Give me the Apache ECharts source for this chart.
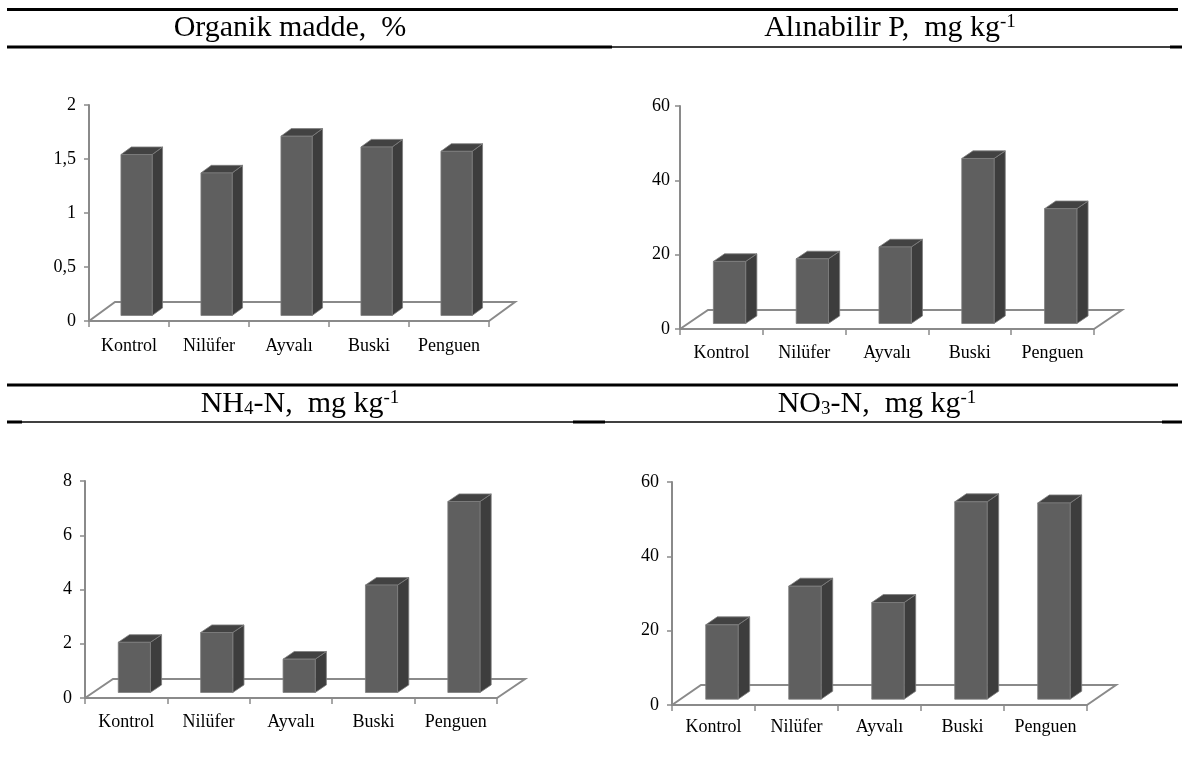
<!DOCTYPE html>
<html>
<head>
<meta charset="utf-8">
<script src="https://cdn.jsdelivr.net/npm/echarts@6/dist/echarts.min.js"></script>
<style>
html,body{margin:0;padding:0;background:#fff;}
#chart{width:1182px;height:758px;}
</style>
</head>
<body>
<div id="chart"></div>
<script>
// ---- data ----
const categories = ['Kontrol', 'Nilüfer', 'Ayvalı', 'Buski', 'Penguen'];
const organikMadde = [1.49, 1.32, 1.66, 1.56, 1.52];
const alinabilirP = [16.7, 17.4, 20.6, 44.4, 30.9];
const nh4N = [1.85, 2.21, 1.23, 3.96, 7.04];
const no3N = [20.0, 30.4, 26.0, 53.1, 52.8];
const organikTicks = ['0', '0,5', '1', '1,5', '2'];
const pTicks = ['0', '20', '40', '60'];
const nh4Ticks = ['0', '2', '4', '6', '8'];
const no3Ticks = ['0', '20', '40', '60'];

// ---- layout / style ----
const FONT = '"Liberation Serif", "Times New Roman", serif';
const GRAY = '#8a8a8a';
const panels = [
  {values: organikMadde, ticks: organikTicks, max: 2, interval: 0.5,
   grid: {left: 89, top: 105, width: 400, height: 216}, depth: [26, -19], xMargin: 16, yMargin: 13},
  {values: alinabilirP, ticks: pTicks, max: 60, interval: 20,
   grid: {left: 680, top: 106, width: 414, height: 223}, depth: [28, -19], xMargin: 15, yMargin: 10},
  {values: nh4N, ticks: nh4Ticks, max: 8, interval: 2,
   grid: {left: 85, top: 481, width: 412, height: 217}, depth: [28, -19], xMargin: 15, yMargin: 13},
  {values: no3N, ticks: no3Ticks, max: 60, interval: 20,
   grid: {left: 672, top: 482, width: 415, height: 223}, depth: [29, -20], xMargin: 13, yMargin: 13}
];

function barRenderer(depth) {
  return function (params, api) {
    const i = api.value(0), v = api.value(1);
    const base = api.coord([i, 0]);
    const top = api.coord([i, v]);
    const cw = api.size([1, 0])[0];
    const bw = cw * 0.39;
    const f0 = 0.29, f1 = 0.69;
    const dx = depth[0], dy = depth[1];
    const x0 = base[0] - bw / 2 + f0 * dx, x1 = x0 + bw;
    const yb = base[1] + f0 * dy, yt = top[1] + f0 * dy;
    const bx = (f1 - f0) * dx, by = (f1 - f0) * dy;
    const edge = {stroke: '#7d7d7d', lineWidth: 0.8};
    return {
      type: 'group',
      children: [
        {type: 'polygon', shape: {points: [[x1, yb], [x1 + bx, yb + by], [x1 + bx, yt + by], [x1, yt]]},
         style: Object.assign({fill: '#3d3d3d'}, edge)},
        {type: 'polygon', shape: {points: [[x0, yt], [x1, yt], [x1 + bx, yt + by], [x0 + bx, yt + by]]},
         style: Object.assign({fill: '#424242'}, edge)},
        {type: 'rect', shape: {x: x0, y: yt, width: bw, height: yb - yt},
         style: Object.assign({fill: '#5f5f5f'}, edge)}
      ]
    };
  };
}

function floorRenderer(depth) {
  return function (params, api) {
    const cs = params.coordSys;
    const x = cs.x, y = cs.y + cs.height, w = cs.width;
    const dx = depth[0], dy = depth[1];
    return {
      type: 'polyline',
      shape: {points: [[x, y], [x + dx, y + dy], [x + w + dx, y + dy], [x + w, y]]},
      style: {stroke: GRAY, lineWidth: 2, fill: null}
    };
  };
}

const grids = [], xAxes = [], yAxes = [], series = [];
panels.forEach((p, k) => {
  grids.push(Object.assign({containLabel: false}, p.grid));
  xAxes.push({
    type: 'category', gridIndex: k, data: categories, boundaryGap: true,
    axisLine: {show: true, lineStyle: {color: GRAY, width: 2}},
    axisTick: {show: true, length: 6, lineStyle: {color: GRAY, width: 1.5}},
    axisLabel: {color: '#000', fontFamily: FONT, fontSize: 18, margin: p.xMargin, interval: 0},
    splitLine: {show: false}
  });
  yAxes.push({
    type: 'value', gridIndex: k, min: 0, max: p.max, interval: p.interval,
    axisLine: {show: true, lineStyle: {color: GRAY, width: 2}},
    axisTick: {show: true, length: 5, lineStyle: {color: GRAY, width: 1.5}},
    axisLabel: {color: '#000', fontFamily: FONT, fontSize: 18, margin: p.yMargin,
      formatter: (val) => {
        const idx = Math.round(val / p.interval);
        return p.ticks[idx] !== undefined ? p.ticks[idx] : String(val);
      }},
    splitLine: {show: false}
  });
  series.push({
    type: 'custom', xAxisIndex: k, yAxisIndex: k, z: 1, silent: true, clip: false,
    renderItem: floorRenderer(p.depth), data: [[0, 0]]
  });
  series.push({
    type: 'custom', xAxisIndex: k, yAxisIndex: k, z: 3, silent: true, clip: false,
    renderItem: barRenderer(p.depth),
    data: p.values.map((v, i) => [i, v])
  });
});

function hline(x1, x2, y, w) {
  return {type: 'line', shape: {x1: x1, y1: y, x2: x2, y2: y}, style: {stroke: '#000', lineWidth: w}, silent: true};
}
const rich = {
  n: {fontFamily: FONT, fontSize: 30, color: '#000'},
  sub: {fontFamily: FONT, fontSize: 19, color: '#000', verticalAlign: 'bottom'},
  sup: {fontFamily: FONT, fontSize: 19, color: '#000', verticalAlign: 'top'}
};
function title(x, y, txt) {
  return {type: 'text', x: x, y: y, silent: true,
    style: {text: txt, rich: rich, align: 'center', verticalAlign: 'middle', font: '30px ' + FONT}};
}

const graphic = [
  hline(7, 1178, 9.5, 3),
  hline(7, 612, 47, 3),
  hline(612, 1170, 47, 1.5),
  hline(1170, 1182, 47, 3),
  hline(7, 1178, 385, 3),
  hline(7, 22, 422, 3),
  hline(22, 573, 422, 1.5),
  hline(573, 605, 422, 3),
  hline(605, 1162, 422, 1.5),
  hline(1162, 1182, 422, 3),
  title(290, 28, '{n|Organik madde,  %}'),
  title(890, 28, '{n|Alınabilir P,  mg kg}{sup|-1}'),
  title(300, 404, '{n|NH}{sub|4}{n|-N,  mg kg}{sup|-1}'),
  title(877, 404, '{n|NO}{sub|3}{n|-N,  mg kg}{sup|-1}')
];

const chart = echarts.init(document.getElementById('chart'), null, {renderer: 'canvas'});
chart.setOption({
  animation: false,
  backgroundColor: '#fff',
  grid: grids,
  xAxis: xAxes,
  yAxis: yAxes,
  series: series,
  graphic: graphic
});
</script>
</body>
</html>
